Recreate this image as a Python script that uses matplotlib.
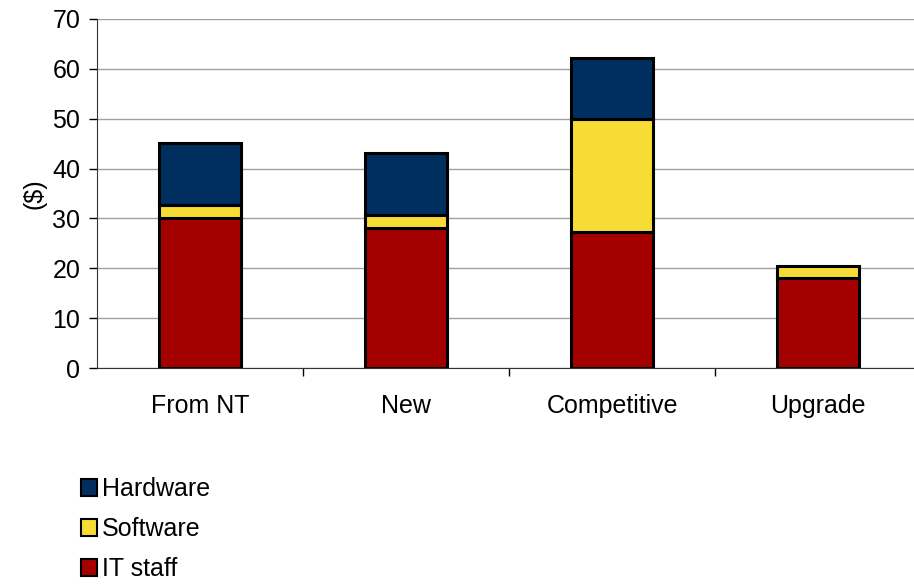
import matplotlib.pyplot as plt
from matplotlib.patches import Patch
import numpy as np

categories = ["From NT", "New", "Competitive", "Upgrade"]
it_staff = [30.1, 28.1, 27.3, 18.0]
software = [2.6, 2.6, 22.6, 2.5]
hardware = [12.5, 12.5, 12.3, 0.0]

series = [("IT staff", it_staff, "#A50000"),
          ("Software", software, "#F7DC35"),
          ("Hardware", hardware, "#002E5E")]

plt.rcParams['font.family'] = ['Liberation Sans', 'DejaVu Sans']
fs = 18

fig = plt.figure(figsize=(9.14, 5.86), dpi=100)
ax = fig.add_axes([97/914, 1 - 368/586, 1 - 97/914 + 0.008, (368 - 19)/586])

x = np.arange(len(categories))
bottom = np.zeros(len(categories))
for name, vals, col in series:
    vals = np.array(vals)
    mask = vals > 0
    ax.bar(x[mask], vals[mask], 0.4, bottom=bottom[mask], color=col,
           edgecolor="black", linewidth=2.2, zorder=3)
    bottom += vals

ax.set_xlim(-0.5, 3.5)
ax.set_ylim(0, 70)
ax.set_yticks(range(0, 71, 10))
ax.yaxis.grid(True, color="#a0a0a0", linewidth=1, zorder=0)
ax.set_xticks(x)
ax.set_xticklabels(categories)
ax.set_xticks([0.5, 1.5, 2.5], minor=True)
ax.tick_params(axis="x", which="major", length=0, pad=19, labelsize=fs)
ax.tick_params(axis="x", which="minor", length=6, width=1)
ax.tick_params(axis="y", length=6, width=1, labelsize=fs, pad=6)
ax.set_ylabel("($)", fontsize=fs, labelpad=4)
for s in ["top", "right"]:
    ax.spines[s].set_visible(False)
ax.spines["left"].set_color("#333333")
ax.spines["bottom"].set_color("#333333")

handles = [Patch(facecolor=c, edgecolor="black", linewidth=1.5, label=n)
           for n, v, c in reversed(series)]
fig.legend(handles=handles, loc="upper left", bbox_to_anchor=(66/914, 1 - 462/586),
           frameon=False, fontsize=fs, handlelength=0.65, handleheight=0.65,
           handletextpad=0.2, labelspacing=0.65, borderpad=0.1)

fig.savefig("out.png", dpi=100)
